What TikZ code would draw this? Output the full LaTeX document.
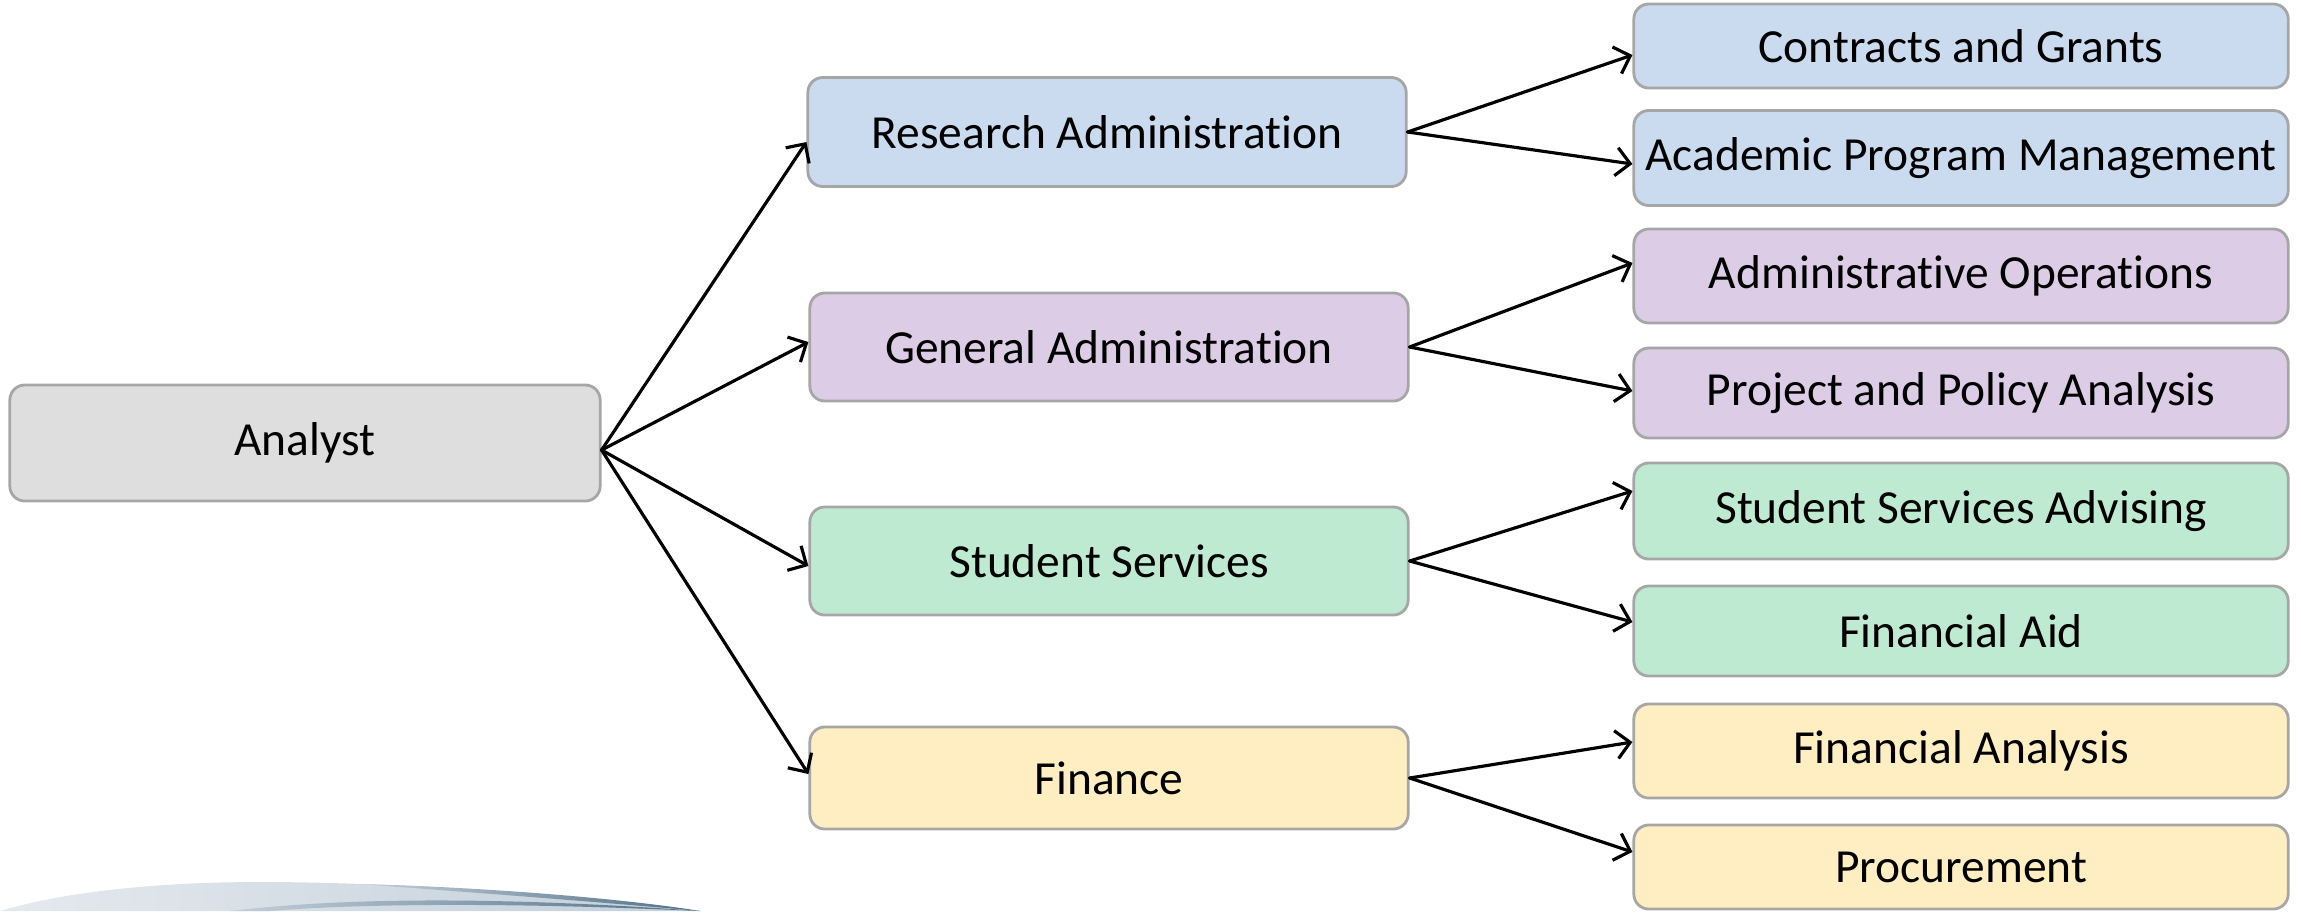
\documentclass[tikz,border=0pt]{standalone}
\usepackage{fontspec}
\setmainfont{Carlito}[Ligatures=NoCommon]
\usetikzlibrary{arrows.meta}
\definecolor{boxline}{HTML}{A6A6A6}
\definecolor{graybox}{HTML}{DEDEDE}
\definecolor{bluebox}{HTML}{CADAEF}
\definecolor{purplebox}{HTML}{DCCCE6}
\definecolor{greenbox}{HTML}{BFEAD2}
\definecolor{yellowbox}{HTML}{FFEEC2}
\definecolor{swooshlight}{HTML}{C3CFDA}
\definecolor{swooshdark}{HTML}{4F6F86}
\tikzset{
	unitbox/.style={draw=boxline, line width=0.8pt, rounded corners=0.15cm, inner sep=0pt, align=center, font=\fontsize{13.5}{16}\selectfont},
	midbox/.style={unitbox, minimum width=5.98cm},
	subbox/.style={unitbox, minimum width=6.54cm},
	link/.style={->, line width=0.9pt}
}
\begin{document}
\begin{tikzpicture}[x=0.01cm, y=-0.01cm, >={Straight Barb[length=4pt,width=8pt]}, line join=round, line cap=round]
	\useasboundingbox (0,0) rectangle (2313,911);
	% swoosh, bottom left
	\shade[left color=swooshlight!45, right color=swooshlight] (0,911) .. controls (60,893) and (150,882) .. (260,882) .. controls (400,882) and (600,896) .. (700,911) -- cycle;
	\shade[left color=swooshlight, right color=swooshdark] (360,884) .. controls (480,887) and (620,898) .. (700,911) .. controls (600,902) and (480,893) .. (360,884) -- cycle;
	\shade[left color=swooshlight, right color=swooshdark] (230,911) .. controls (330,899) and (480,895) .. (700,911) .. controls (480,901) and (340,905) .. (270,911) -- cycle;
	% root
	\node[unitbox, fill=graybox, minimum width=5.9cm, minimum height=1.16cm] (analyst) at (305,443) {Analyst};
	% second level
	\node[midbox, fill=bluebox, minimum height=1.09cm] (research) at (1107,132) {Research Administration};
	\node[midbox, fill=purplebox, minimum height=1.08cm] (general) at (1109,347) {General Administration};
	\node[midbox, fill=greenbox, minimum height=1.08cm] (student) at (1109,561) {Student Services};
	\node[midbox, fill=yellowbox, minimum height=1.02cm] (finance) at (1109,778) {Finance};
	% third level
	\node[subbox, fill=bluebox, minimum height=0.84cm] (contracts) at (1961,46) {Contracts and Grants};
	\node[subbox, fill=bluebox, minimum height=0.95cm] (academic) at (1961,158) {Academic Program Management};
	\node[subbox, fill=purplebox, minimum height=0.94cm] (operations) at (1961,276) {Administrative Operations};
	\node[subbox, fill=purplebox, minimum height=0.90cm] (policy) at (1961,393) {Project and Policy Analysis};
	\node[subbox, fill=greenbox, minimum height=0.96cm] (advising) at (1961,511) {Student Services Advising};
	\node[subbox, fill=greenbox, minimum height=0.90cm] (aid) at (1961,631) {Financial Aid};
	\node[subbox, fill=yellowbox, minimum height=0.94cm] (analysis) at (1961,751) {Financial Analysis};
	\node[subbox, fill=yellowbox, minimum height=0.84cm] (procurement) at (1961,867) {Procurement};
	% connectors
	\foreach \m/\s in {research/-0.1cm, general/0.05cm, student/-0.05cm, finance/0.04cm}
		\draw[link] ([yshift=-0.07cm]analyst.east) -- ([yshift=\s]\m.west);
	\foreach \m/\a/\sa/\b/\sb in {research/contracts/-0.09cm/academic/-0.06cm, general/operations/0.13cm/policy/0.02cm, student/advising/0.2cm/aid/0.09cm, finance/analysis/0.09cm/procurement/0.15cm}{
		\draw[link] (\m.east) -- ([yshift=\sa]\a.west);
		\draw[link] (\m.east) -- ([yshift=\sb]\b.west);
	}
\end{tikzpicture}
\end{document}
